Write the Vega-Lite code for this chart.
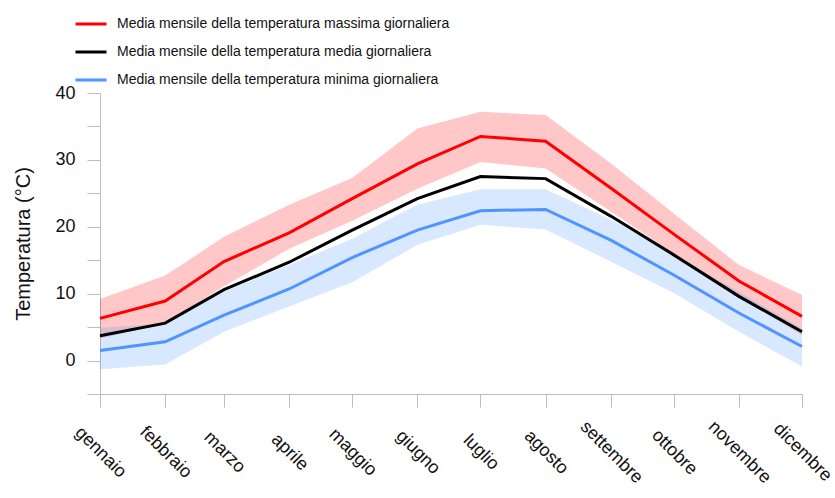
{
  "$schema": "https://vega.github.io/schema/vega-lite/v6.json",
  "width": 702,
  "height": 301,
  "autosize": {"type": "none"},
  "padding": {"left": 100, "top": 93, "right": 33, "bottom": 104},
  "config": {"view": {"stroke": null}, "font": "Liberation Sans"},
  "data": {"values": [
    {"mese": "2021-01-01", "serie": "max", "v": 6.3, "lo": 3.3, "hi": 9.2},
    {"mese": "2021-02-01", "serie": "max", "v": 8.9, "lo": 5.5, "hi": 12.7},
    {"mese": "2021-03-01", "serie": "max", "v": 14.8, "lo": 11.1, "hi": 18.5},
    {"mese": "2021-04-01", "serie": "max", "v": 19.1, "lo": 16.7, "hi": 23.3},
    {"mese": "2021-05-01", "serie": "max", "v": 24.2, "lo": 20.9, "hi": 27.3},
    {"mese": "2021-06-01", "serie": "max", "v": 29.4, "lo": 25.7, "hi": 34.7},
    {"mese": "2021-07-01", "serie": "max", "v": 33.5, "lo": 29.7, "hi": 37.2},
    {"mese": "2021-08-01", "serie": "max", "v": 32.8, "lo": 28.7, "hi": 36.7},
    {"mese": "2021-09-01", "serie": "max", "v": 25.8, "lo": 22.3, "hi": 29.5},
    {"mese": "2021-10-01", "serie": "max", "v": 18.9, "lo": 16.0, "hi": 22.0},
    {"mese": "2021-11-01", "serie": "max", "v": 11.9, "lo": 9.5, "hi": 14.3},
    {"mese": "2021-12-01", "serie": "max", "v": 6.6, "lo": 3.8, "hi": 9.8},
    {"mese": "2021-01-01", "serie": "media", "v": 3.7},
    {"mese": "2021-02-01", "serie": "media", "v": 5.6},
    {"mese": "2021-03-01", "serie": "media", "v": 10.6},
    {"mese": "2021-04-01", "serie": "media", "v": 14.7},
    {"mese": "2021-05-01", "serie": "media", "v": 19.5},
    {"mese": "2021-06-01", "serie": "media", "v": 24.2},
    {"mese": "2021-07-01", "serie": "media", "v": 27.5},
    {"mese": "2021-08-01", "serie": "media", "v": 27.2},
    {"mese": "2021-09-01", "serie": "media", "v": 21.6},
    {"mese": "2021-10-01", "serie": "media", "v": 15.8},
    {"mese": "2021-11-01", "serie": "media", "v": 9.6},
    {"mese": "2021-12-01", "serie": "media", "v": 4.3},
    {"mese": "2021-01-01", "serie": "min", "v": 1.5, "lo": -1.3, "hi": 4.9},
    {"mese": "2021-02-01", "serie": "min", "v": 2.8, "lo": -0.6, "hi": 5.5},
    {"mese": "2021-03-01", "serie": "min", "v": 6.8, "lo": 4.3, "hi": 10.3},
    {"mese": "2021-04-01", "serie": "min", "v": 10.7, "lo": 8.1, "hi": 14.3},
    {"mese": "2021-05-01", "serie": "min", "v": 15.4, "lo": 11.7, "hi": 18.2},
    {"mese": "2021-06-01", "serie": "min", "v": 19.5, "lo": 17.3, "hi": 23.3},
    {"mese": "2021-07-01", "serie": "min", "v": 22.4, "lo": 20.3, "hi": 25.6},
    {"mese": "2021-08-01", "serie": "min", "v": 22.6, "lo": 19.6, "hi": 25.6},
    {"mese": "2021-09-01", "serie": "min", "v": 18.0, "lo": 14.8, "hi": 21.1},
    {"mese": "2021-10-01", "serie": "min", "v": 12.8, "lo": 10.1, "hi": 15.8},
    {"mese": "2021-11-01", "serie": "min", "v": 7.1, "lo": 4.3, "hi": 10.3},
    {"mese": "2021-12-01", "serie": "min", "v": 2.1, "lo": -0.9, "hi": 4.8}
  ]},
  "encoding": {
    "x": {
      "field": "mese",
      "type": "temporal",
      "scale": {"type": "utc", "nice": false},
      "axis": {
        "title": null,
        "grid": false,
        "values": [
          {"year": 2021, "month": 1, "date": 1, "utc": true},
          {"year": 2021, "month": 2, "date": 1, "utc": true},
          {"year": 2021, "month": 3, "date": 1, "utc": true},
          {"year": 2021, "month": 4, "date": 1, "utc": true},
          {"year": 2021, "month": 5, "date": 1, "utc": true},
          {"year": 2021, "month": 6, "date": 1, "utc": true},
          {"year": 2021, "month": 7, "date": 1, "utc": true},
          {"year": 2021, "month": 8, "date": 1, "utc": true},
          {"year": 2021, "month": 9, "date": 1, "utc": true},
          {"year": 2021, "month": 10, "date": 1, "utc": true},
          {"year": 2021, "month": 11, "date": 1, "utc": true},
          {"year": 2021, "month": 12, "date": 1, "utc": true}
        ],
        "labelExpr": "['gennaio','febbraio','marzo','aprile','maggio','giugno','luglio','agosto','settembre','ottobre','novembre','dicembre'][utcmonth(datum.value)]",
        "labelAngle": 45,
        "labelAlign": "center",
        "labelBaseline": "middle",
        "labelPadding": 45,
        "labelFontSize": 18,
        "labelColor": "#111111",
        "labelOverlap": false,
        "labelFlush": false,
        "labelBound": false,
        "tickSize": 13,
        "tickColor": "#bdbdbd",
        "domainColor": "#bdbdbd"
      }
    },
    "color": {
      "field": "serie",
      "type": "nominal",
      "scale": {"domain": ["max", "media", "min"], "range": ["#ff0000", "#000000", "#4f94ff"]},
      "legend": {
        "orient": "none",
        "legendX": -26,
        "legendY": -86,
        "title": null,
        "padding": 0,
        "symbolType": "stroke",
        "symbolSize": 961,
        "symbolStrokeWidth": 3,
        "symbolOpacity": 1,
        "labelFont": "Liberation Sans",
        "labelFontSize": 14,
        "labelColor": "#111111",
        "labelOffset": 9,
        "rowPadding": 4,
        "labelLimit": 500,
        "labelExpr": "datum.value == 'max' ? 'Media mensile della temperatura massima giornaliera' : datum.value == 'media' ? 'Media mensile della temperatura media giornaliera' : 'Media mensile della temperatura minima giornaliera'"
      }
    }
  },
  "layer": [
    {
      "transform": [{"filter": "datum.lo != null"}],
      "mark": {"type": "area", "fillOpacity": 0.22},
      "encoding": {
        "y": {
          "field": "lo",
          "type": "quantitative",
          "title": "Temperatura (°C)",
          "scale": {"domain": [-5, 40], "nice": false, "zero": false},
          "axis": {
            "grid": false,
            "values": [-5, 0, 5, 10, 15, 20, 25, 30, 35, 40],
            "labelExpr": "datum.value % 10 == 0 ? format(datum.value, 'd') : ''",
            "labelFontSize": 18,
            "labelColor": "#111111",
            "labelPadding": 12,
            "tickSize": 13,
            "tickColor": "#bdbdbd",
            "domainColor": "#bdbdbd",
            "titleFontSize": 20,
            "titleFontWeight": "normal",
            "titleColor": "#111111",
            "titlePadding": 21
          }
        },
        "y2": {"field": "hi"}
      }
    },
    {
      "mark": {"type": "line", "strokeWidth": 3},
      "encoding": {
        "y": {
          "field": "v",
          "type": "quantitative",
          "title": "Temperatura (°C)",
          "scale": {"domain": [-5, 40], "nice": false, "zero": false},
          "axis": {
            "grid": false,
            "values": [-5, 0, 5, 10, 15, 20, 25, 30, 35, 40],
            "labelExpr": "datum.value % 10 == 0 ? format(datum.value, 'd') : ''",
            "labelFontSize": 18,
            "labelColor": "#111111",
            "labelPadding": 12,
            "tickSize": 13,
            "tickColor": "#bdbdbd",
            "domainColor": "#bdbdbd",
            "titleFontSize": 20,
            "titleFontWeight": "normal",
            "titleColor": "#111111",
            "titlePadding": 21
          }
        }
      }
    }
  ]
}
